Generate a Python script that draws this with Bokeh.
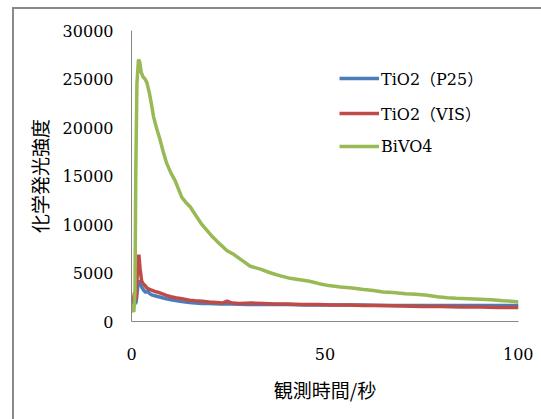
from bokeh.plotting import figure
from bokeh.models import Range1d, FixedTicker, Legend, LegendItem, Div
from bokeh.layouts import column
from bokeh.embed import file_html
from bokeh.resources import INLINE

# ---- data ----
t_p25 = [0, 0.4, 0.8, 1.2, 1.6, 2.0, 2.3, 2.7, 3.2, 3.7, 4.2, 4.6, 5.2, 6.0, 7.0, 8.0, 9.0,
         10.2, 11.4, 13, 15, 16.5, 18.3, 20, 23, 26, 30, 35, 40, 45, 50, 55, 60, 65, 70,
         75, 80, 85, 90, 95, 100]
v_p25 = [1700, 1900, 1800, 2000, 3500, 4200, 4000, 3500, 3200, 3000, 3150, 2900, 2750, 2650,
         2550, 2450, 2350, 2250, 2150, 2050, 1950, 1900, 1850, 1850, 1800, 1800, 1750, 1750,
         1750, 1700, 1700, 1700, 1700, 1650, 1650, 1650, 1650, 1650, 1650, 1650, 1650]

t_vis = [0, 0.4, 0.8, 1.2, 1.5, 1.9, 2.2, 2.6, 3.0, 3.5, 4.0, 4.5, 5.0, 6.0, 7.0, 8.0, 9.0,
         10.2, 11.4, 13, 15, 16.5, 18.3, 20, 22, 23.5, 24.7, 26, 28, 31, 34, 37, 40, 44, 48,
         52, 56, 60, 65, 70, 75, 80, 85, 90, 95, 100]
v_vis = [2500, 2000, 3000, 2200, 5000, 6900, 5500, 4200, 3900, 3700, 3450, 3350, 3250, 3100,
         3000, 2850, 2700, 2550, 2450, 2350, 2200, 2150, 2100, 2000, 1950, 1900, 2100, 1900,
         1850, 1900, 1850, 1800, 1800, 1750, 1750, 1700, 1700, 1650, 1650, 1600, 1550, 1550,
         1500, 1500, 1450, 1450]

t_bivo4 = [0, 0.3, 0.6, 0.9, 1.1, 1.4, 1.8, 2.1, 2.5, 3.0, 3.5, 4.0, 4.6, 5.2, 5.7, 6.5, 7.4,
           8.2, 9.1, 10.2, 11.3, 12.2, 13, 14, 15.2, 16.5, 18, 19.5, 21, 22.8, 24.7, 26.5,
           28.2, 30.7, 33.3, 36, 38.5, 41, 43.5, 46, 48.5, 51, 54, 57, 60, 62.5, 65, 67.5,
           70.8, 73.5, 76.4, 79, 81.6, 84, 87, 90, 93, 96, 98, 100]
v_bivo4 = [1800, 1200, 1000, 3000, 15000, 24500, 27000, 26800, 25700, 25200, 25000, 24600,
           23600, 22300, 21100, 19900, 18700, 17500, 16300, 15300, 14500, 13600, 12800, 12300,
           11800, 11000, 10100, 9400, 8700, 8000, 7300, 6900, 6400, 5700, 5400, 5000, 4700,
           4450, 4300, 4150, 3900, 3700, 3550, 3450, 3300, 3200, 3050, 3000, 2850, 2800, 2700,
           2550, 2450, 2400, 2350, 2300, 2250, 2150, 2100, 2000]

series_names = ["TiO2（P25）", "TiO2（VIS）", "BiVO4"]
x_ticks = [0, 50, 100]
y_ticks = [0, 5000, 10000, 15000, 20000, 25000, 30000]

SERIF = "'DejaVu Serif', 'Noto Sans CJK JP'"
CJK = "Noto Sans CJK JP"

p = figure(width=533, height=419, output_backend="svg", toolbar_location=None,
           x_range=Range1d(0, 100), y_range=Range1d(0, 30000),
           min_border_left=131, min_border_right=15, min_border_top=30,
           min_border_bottom=98)

p.xgrid.visible = False
p.ygrid.visible = False
p.outline_line_color = None
p.background_fill_color = "white"
p.border_fill_color = "white"

colors = ["#4a7ebb", "#be4b48", "#98b954"]
r1 = p.line(t_p25, v_p25, line_color=colors[0], line_width=3.5)
r2 = p.line(t_vis, v_vis, line_color=colors[1], line_width=3.5)
r3 = p.line(t_bivo4, v_bivo4, line_color=colors[2], line_width=3.5)

for ax in (p.xaxis[0], p.yaxis[0]):
    ax.axis_line_color = "#868686"
    ax.axis_line_width = 1
    ax.major_tick_line_color = None
    ax.minor_tick_line_color = None
    ax.major_tick_out = 0
    ax.major_tick_in = 0
    ax.major_label_text_font = SERIF
    ax.major_label_text_font_size = "16px"
    ax.major_label_text_color = "#000000"
    ax.axis_label_text_font = CJK
    ax.axis_label_text_font_size = "19px"
    ax.axis_label_text_font_style = "normal"
    ax.axis_label_text_color = "#000000"

p.xaxis.ticker = FixedTicker(ticks=x_ticks)
p.yaxis.ticker = FixedTicker(ticks=y_ticks)
p.xaxis.major_label_standoff = 26
p.yaxis.major_label_standoff = 18
p.xaxis.axis_label = "観測時間/秒"
p.yaxis.axis_label = "化学発光強度"
p.xaxis.axis_label_standoff = 13
p.yaxis.axis_label_standoff = 7

legend = Legend(items=[LegendItem(label=series_names[0], renderers=[r1]),
                       LegendItem(label=series_names[1], renderers=[r2]),
                       LegendItem(label=series_names[2], renderers=[r3])],
                location=(208, 165))
legend.border_line_color = None
legend.background_fill_alpha = 0
legend.padding = 0
legend.margin = 0
legend.spacing = 11
legend.glyph_width = 40
legend.glyph_height = 20
legend.label_standoff = 2
legend.label_text_font = SERIF
legend.label_text_font_size = "16px"
legend.label_text_color = "#000000"
p.add_layout(legend)

# outer chart-area frame: only its top and left edges fall inside the picture
frame_div = Div(width=0, height=0,
                text='<div style="position:fixed; left:12px; top:7px; width:700px; '
                     'height:700px; border-top:2px solid #898989; '
                     'border-left:2px solid #898989; pointer-events:none;"></div>')

layout = column(p, frame_div, spacing=0)

open("out.html", "w").write(file_html(layout, INLINE))
